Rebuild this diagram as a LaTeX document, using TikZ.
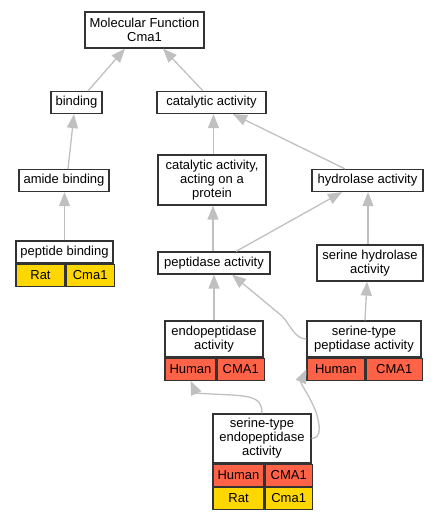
\documentclass[tikz,border=0pt]{standalone}
\usepackage{fontspec}
\setmainfont{Liberation Sans}
\usetikzlibrary{arrows.meta}
\definecolor{human}{HTML}{FF6347}
\definecolor{rat}{HTML}{FFD700}
\definecolor{edgegray}{HTML}{C0C0C0}
\definecolor{boxline}{HTML}{333333}
\tikzset{
  term/.style={draw=boxline, line width=1.2pt, fill=white, align=center,
    inner sep=0pt, font=\fontsize{13}{14}\selectfont},
  cell/.style={term, anchor=north west, minimum height=22pt},
  isa/.style={draw=edgegray, line width=1.3pt, -{Triangle[length=14pt,width=11pt]}}
}
\begin{document}
\begin{tikzpicture}[x=1pt,y=-1pt]
\useasboundingbox (0,0) rectangle (440,517);
% terms
\node[term, minimum width=119pt, minimum height=36pt] (mf) at (144.5,30) {Molecular Function\\Cma1};
\node[term, minimum width=51pt, minimum height=22pt] (bind) at (76.5,102.5) {binding};
\node[term, minimum width=109pt, minimum height=22pt] (cat) at (211.5,102.5) {catalytic activity};
\node[term, minimum width=90pt, minimum height=22pt] (amide) at (64,180.5) {amide binding};
\node[term, minimum width=108pt, minimum height=50pt] (acting) at (212,180) {catalytic activity,\\acting on a\\protein};
\node[term, minimum width=111pt, minimum height=22pt] (hydro) at (367.5,180.5) {hydrolase activity};
\node[term, minimum width=97pt, minimum height=22pt] (pepb) at (64.5,252) {peptide binding};
\node[term, minimum width=112pt, minimum height=22pt] (pep) at (214,263) {peptidase activity};
\node[term, minimum width=106pt, minimum height=36pt] (serh) at (370,263) {serine hydrolase\\activity};
\node[term, minimum width=98pt, minimum height=36pt] (endo) at (214,339) {endopeptidase\\activity};
\node[term, minimum width=114pt, minimum height=36pt] (stp) at (364,339) {serine-type\\peptidase activity};
\node[term, minimum width=98pt, minimum height=49pt] (ste) at (262,438.5) {serine-type\\endopeptidase\\activity};
% gene rows
\node[cell, fill=rat, minimum width=49pt] (pepbR) at (pepb.south west) {Rat};
\node[cell, fill=rat, minimum width=48pt] (pepbC) at (pepbR.north east) {Cma1};
\node[cell, fill=human, minimum width=51pt] (endoH) at (endo.south west) {Human};
\node[cell, fill=human, minimum width=47pt] (endoC) at (endoH.north east) {CMA1};
\node[cell, fill=human, minimum width=58pt] (stpH) at (stp.south west) {Human};
\node[cell, fill=human, minimum width=56pt] (stpC) at (stpH.north east) {CMA1};
\node[cell, fill=human, minimum width=51pt] (steH) at (ste.south west) {Human};
\node[cell, fill=human, minimum width=47pt] (steC) at (steH.north east) {CMA1};
\node[cell, fill=rat, minimum width=51pt] (steR) at (steH.south west) {Rat};
\node[cell, fill=rat, minimum width=47pt] (steM) at (steR.north east) {Cma1};
% is_a edges
\draw[isa] ([xshift=11.5pt]bind.north) -- ([xshift=-19.5pt]mf.south);
\draw[isa] ([xshift=-8.5pt]cat.north) -- ([xshift=18.5pt]mf.south);
\draw[isa] ([xshift=4pt]amide.north) -- ([xshift=-2.5pt]bind.south);
\draw[isa] (pepb.north) -- (pepb.north |- amide.south);
\draw[isa] ([xshift=1.5pt]acting.north) -- ([xshift=1.5pt]acting.north |- cat.south);
\draw[isa] ([xshift=-22.5pt]hydro.north) -- ([xshift=21.5pt]cat.south);
\draw[isa] ([xshift=22pt]pep.north) -- ([xshift=-25.5pt]hydro.south);
\draw[isa] ([xshift=-1pt]pep.north) -- ([xshift=-1pt]pep.north |- acting.south);
\draw[isa] ([xshift=-2pt]serh.north) -- ([xshift=0.5pt]hydro.south);
\draw[isa] (endo.north) -- (endo.north |- pep.south);
\draw[isa] (stp.west) .. controls (295,339) and (291,326) .. (282,316) -- ([xshift=18pt]pep.south);
\draw[isa] ([xshift=1pt]stp.north) -- ([xshift=-3pt]serh.south);
\draw[isa] (ste.north) .. controls (262,399) and (254,396.5) .. (232,395)
  .. controls (210,394) and (196,393) .. (endoH.south);
\draw[isa] (ste.east) .. controls (322,438) and (320,425) .. (316,412)
  .. controls (308,392) and (300,384) .. (stpH.west);
\end{tikzpicture}
\end{document}
